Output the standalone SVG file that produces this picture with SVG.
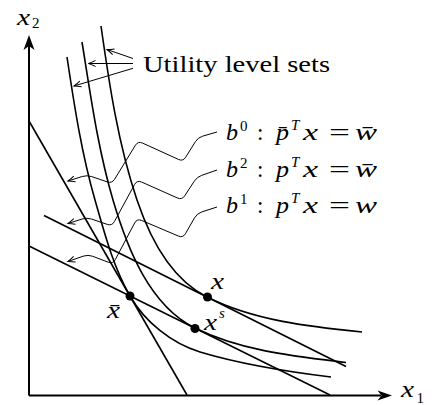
<svg xmlns="http://www.w3.org/2000/svg" width="439" height="405" viewBox="0 0 439 405">
<style>
.ax{stroke:#000;stroke-width:2;fill:none}
.crv{stroke:#000;stroke-width:1.6;fill:none}
.ld{stroke:#000;stroke-width:1;fill:none;marker-end:url(#ah)}
</style>
<defs>
<marker id="ah" markerUnits="userSpaceOnUse" markerWidth="12" markerHeight="10" viewBox="-9 -5 10 10" refX="0" refY="0" orient="auto">
<path d="M-7,-3 Q-3,-1 0,0 Q-3,1 -7,3" stroke="#000" stroke-width="1" fill="none"/>
</marker>
</defs>
<g id="axes">
<path class="ax" d="M29,395.5 L29,46 M29,395.5 L381,395.5"/>
<path d="M29,35 L34.5,50 L29,46 L23.5,50 Z" fill="#000"/>
<path d="M392,395.5 L377.5,390.5 L381.5,395.5 L377.5,400.5 Z" fill="#000"/>
<text font-family="Liberation Serif, serif" font-style="italic" font-size="23" x="17" y="25" textLength="13" lengthAdjust="spacingAndGlyphs">x</text><text font-family="Liberation Serif, serif" font-size="15" x="32" y="27.5">2</text>
<text font-family="Liberation Serif, serif" font-style="italic" font-size="23" x="401" y="397" textLength="13" lengthAdjust="spacingAndGlyphs">x</text><text font-family="Liberation Serif, serif" font-size="15" x="416.5" y="403">1</text>
</g>
<g id="budget-lines">
<path id="b0" class="crv" d="M29,121 L187,395"/>
<path id="b2" class="crv" d="M44,215.5 L346,366.5"/>
<path id="b1" class="crv" d="M29,246 L330,395"/>
</g>
<g id="level-sets">
<path id="uA" class="crv" d="M67,57 C74.2,105.1 81.6,153.3 95,200 C104.4,232.7 113.1,266.5 130,296 C144.9,321.9 171.4,343.4 200,352 C242.5,364.7 286.9,371.7 331,377"/>
<path id="uB" class="crv" d="M82,42 C90.6,95 97.8,148.5 113,200 C127.3,248.6 149.6,305.5 195,328 C241.3,351 294.7,356.3 346,362.5"/>
<path id="uC" class="crv" d="M101,26 C109.3,84.4 118.1,144 137,200 C149.8,238 171.2,279.1 207,297 C254.4,320.7 309.3,326.7 362,332"/>
</g>
<g id="points" font-family="Liberation Serif, serif" font-style="italic">
<circle cx="130" cy="296" r="4.5"/>
<circle cx="207.5" cy="297" r="4.5"/>
<circle cx="195" cy="328.5" r="4.5"/>
<text font-size="23" x="107" y="318" textLength="13" lengthAdjust="spacingAndGlyphs">x̄</text>
<text font-size="23" x="211" y="289" textLength="13" lengthAdjust="spacingAndGlyphs">x</text>
<text font-size="23" x="204" y="330" textLength="13" lengthAdjust="spacingAndGlyphs">x</text><text font-size="15" x="219" y="318">s</text>
</g>
<g id="connectors">
<path class="ld" d="M133,58.5 L107,49.5"/>
<path class="ld" d="M133,63.5 L88.5,63.5"/>
<path class="ld" d="M133,68.3 L74,86"/>
<path class="ld" d="M217,132 L202.8,136.1 Q198,137.5 195.35,141.74 L185.65,157.26 Q183,161.5 178.44,159.42 L142.56,143.08 Q138,141 135.39,145.27 L114.61,179.23 Q112,183.5 107.26,181.89 L91.74,176.61 Q87,175 82.23,176.5 L68,181"/>
<path class="ld" d="M217,170 L201.72,175.35 Q197,177 194.27,181.18 L184.73,195.82 Q182,200 177.43,197.97 L141.57,182.03 Q137,180 134.61,184.39 L114.39,221.61 Q112,226 107.26,224.39 L91.74,219.11 Q87,217.5 82.23,219 L68,223.5"/>
<path class="ld" d="M217,207 L201.76,211.95 Q197,213.5 194.52,217.84 L185.48,233.66 Q183,238 178.39,236.05 L141.61,220.45 Q137,218.5 134.66,222.93 L115.34,259.57 Q113,264 108.32,262.22 L92.68,256.28 Q88,254.5 83.28,256.15 L68,261.5"/>
</g>
<g id="label-utility">
<text font-family="Liberation Serif, serif" font-size="24" x="143" y="72" textLength="187" lengthAdjust="spacingAndGlyphs">Utility level sets</text>
</g>
<g id="label-b0" font-family="Liberation Serif, serif">
<text font-style="italic" font-size="23" x="226" y="140" textLength="12" lengthAdjust="spacingAndGlyphs">b</text><text font-size="15" x="240" y="131">0</text>
<text font-size="23" x="257" y="140">:</text>
<text font-style="italic" font-size="23" x="276" y="140" textLength="13" lengthAdjust="spacingAndGlyphs">p̄</text><text font-style="italic" font-size="15" x="291" y="130">T</text>
<text font-style="italic" font-size="23" x="303" y="140" textLength="15" lengthAdjust="spacingAndGlyphs">x</text>
<text font-size="23" x="329" y="140" textLength="21" lengthAdjust="spacingAndGlyphs">=</text>
<text font-style="italic" font-size="23" x="355" y="140" textLength="22" lengthAdjust="spacingAndGlyphs">w̄</text>
</g>
<g id="label-b2" font-family="Liberation Serif, serif">
<text font-style="italic" font-size="23" x="226" y="177" textLength="12" lengthAdjust="spacingAndGlyphs">b</text><text font-size="15" x="240" y="168">2</text>
<text font-size="23" x="257" y="177">:</text>
<text font-style="italic" font-size="23" x="276" y="177" textLength="13" lengthAdjust="spacingAndGlyphs">p</text><text font-style="italic" font-size="15" x="291" y="167">T</text>
<text font-style="italic" font-size="23" x="303" y="177" textLength="15" lengthAdjust="spacingAndGlyphs">x</text>
<text font-size="23" x="329" y="177" textLength="21" lengthAdjust="spacingAndGlyphs">=</text>
<text font-style="italic" font-size="23" x="355" y="177" textLength="22" lengthAdjust="spacingAndGlyphs">w̄</text>
</g>
<g id="label-b1" font-family="Liberation Serif, serif">
<text font-style="italic" font-size="23" x="226" y="213" textLength="12" lengthAdjust="spacingAndGlyphs">b</text><text font-size="15" x="240" y="204">1</text>
<text font-size="23" x="257" y="213">:</text>
<text font-style="italic" font-size="23" x="276" y="213" textLength="13" lengthAdjust="spacingAndGlyphs">p</text><text font-style="italic" font-size="15" x="291" y="203">T</text>
<text font-style="italic" font-size="23" x="303" y="213" textLength="15" lengthAdjust="spacingAndGlyphs">x</text>
<text font-size="23" x="329" y="213" textLength="21" lengthAdjust="spacingAndGlyphs">=</text>
<text font-style="italic" font-size="23" x="355" y="213" textLength="22" lengthAdjust="spacingAndGlyphs">w</text>
</g>
</svg>
